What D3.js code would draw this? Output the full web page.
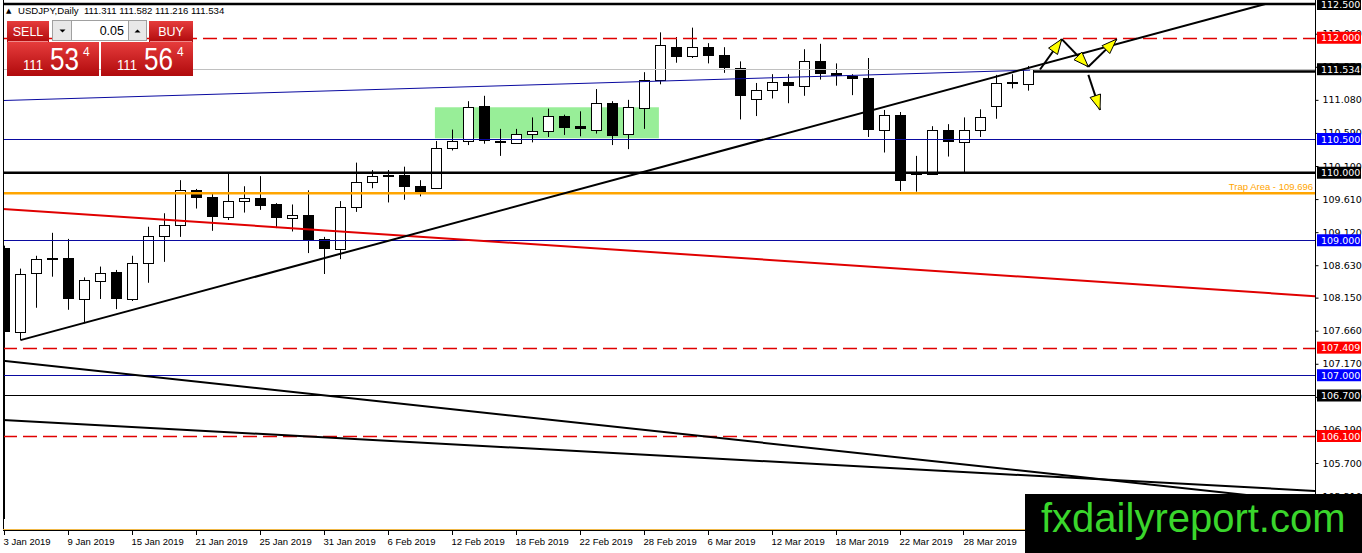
<!DOCTYPE html>
<html lang="en">
<head>
<meta charset="UTF-8" />
<title>USDJPY, Daily</title>
<script src="https://d3js.org/d3.v7.min.js"></script>
<style>
  body { margin: 0; background: #fff; }
  svg { display: block; }
  .price-label { font-family: "DejaVu Sans", sans-serif; font-size: 9.5px; }
  .date-label { font-family: "Liberation Sans", Arial, sans-serif; font-size: 9.5px; }
  .panel-text { font-family: "Liberation Sans", Arial, sans-serif; fill: #fff; }
</style>
</head>
<body>
<div id="chart"></div>
<script>
// daily bars, 3 Jan - 3 Apr 2019
const barDates = [
  "3 Jan", "4 Jan", "7 Jan", "8 Jan", "9 Jan", "10 Jan", "11 Jan", "14 Jan", "15 Jan", "16 Jan",
  "17 Jan", "18 Jan", "21 Jan", "22 Jan", "23 Jan", "24 Jan", "25 Jan", "28 Jan", "29 Jan", "30 Jan",
  "31 Jan", "1 Feb", "4 Feb", "5 Feb", "6 Feb", "7 Feb", "8 Feb", "11 Feb", "12 Feb", "13 Feb",
  "14 Feb", "15 Feb", "18 Feb", "19 Feb", "20 Feb", "21 Feb", "22 Feb", "25 Feb", "26 Feb", "27 Feb",
  "28 Feb", "1 Mar", "4 Mar", "5 Mar", "6 Mar", "7 Mar", "8 Mar", "11 Mar", "12 Mar", "13 Mar",
  "14 Mar", "15 Mar", "18 Mar", "19 Mar", "20 Mar", "21 Mar", "22 Mar", "25 Mar", "26 Mar", "27 Mar",
  "28 Mar", "29 Mar", "1 Apr", "2 Apr", "3 Apr"
];
const openP = [
  108.88, 107.64, 108.51, 108.74, 108.74, 108.13, 108.40, 108.53, 108.13, 108.67,
  109.07, 109.22, 109.75, 109.64, 109.35, 109.58, 109.62, 109.54, 109.33, 109.37,
  109.02, 108.87, 109.49, 109.86, 109.96, 109.97, 109.80, 109.77, 110.36, 110.47,
  110.99, 110.47, 110.44, 110.58, 110.62, 110.84, 110.69, 110.64, 111.04, 110.57,
  110.96, 111.37, 111.87, 111.73, 111.86, 111.74, 111.55, 111.10, 111.23, 111.34,
  111.28, 111.65, 111.48, 111.43, 111.40, 110.63, 110.85, 110.00, 109.98, 110.63,
  110.45, 110.63, 110.99, 111.34, 111.311
];
const highP = [
  108.92, 108.58, 108.77, 109.11, 109.02, 108.45, 108.61, 108.56, 108.77, 109.20,
  109.40, 109.89, 109.76, 109.70, 109.99, 109.80, 109.95, 109.55, 109.53, 109.74,
  109.05, 109.58, 110.15, 110.04, 110.04, 110.09, 109.89, 110.47, 110.64, 111.06,
  111.14, 110.65, 110.65, 110.82, 110.95, 110.86, 110.91, 111.24, 111.06, 111.08,
  111.49, 112.08, 112.01, 112.15, 111.92, 111.86, 111.65, 111.33, 111.46, 111.46,
  111.83, 111.91, 111.62, 111.46, 111.70, 110.93, 110.90, 110.25, 110.69, 110.72,
  110.82, 110.94, 111.45, 111.46, 111.582
];
const lowP = [
  104.87, 107.52, 108.00, 108.46, 107.97, 107.77, 108.13, 107.98, 108.10, 108.37,
  108.68, 109.05, 109.47, 109.14, 109.30, 109.41, 109.45, 109.18, 109.13, 108.81,
  108.50, 108.72, 109.42, 109.77, 109.56, 109.60, 109.65, 109.76, 110.33, 110.41,
  110.43, 110.25, 110.43, 110.45, 110.53, 110.56, 110.54, 110.58, 110.41, 110.35,
  110.65, 111.31, 111.63, 111.70, 111.62, 111.48, 110.79, 110.84, 111.10, 111.03,
  111.14, 111.38, 111.29, 111.15, 110.53, 110.30, 109.73, 109.72, 109.97, 110.24,
  110.00, 110.53, 110.80, 111.25, 111.216
];
const closeP = [
  107.64, 108.50, 108.72, 108.72, 108.13, 108.41, 108.51, 108.13, 108.67, 109.07,
  109.22, 109.75, 109.63, 109.35, 109.58, 109.62, 109.51, 109.33, 109.38, 109.00,
  108.87, 109.49, 109.86, 109.95, 109.95, 109.79, 109.71, 110.36, 110.47, 110.98,
  110.47, 110.44, 110.58, 110.62, 110.84, 110.67, 110.65, 111.03, 110.55, 110.97,
  111.37, 111.89, 111.72, 111.86, 111.73, 111.55, 111.14, 111.23, 111.34, 111.29,
  111.65, 111.47, 111.44, 111.39, 110.64, 110.85, 109.88, 109.99, 110.63, 110.45,
  110.64, 110.82, 111.33, 111.33, 111.534
];

const dateTickBars = [0, 4, 8, 12, 16, 20, 24, 28, 32, 36, 40, 44, 48, 52, 56, 60, 64];
const priceTicks = [112.06, 111.57, 111.08, 110.59, 110.10, 109.61, 109.12, 108.63, 108.15,
                    107.66, 107.17, 106.68, 106.19, 105.70, 105.21];

// horizontal levels drawn on the chart
const levelPrices = [112.5, 112.0, 111.534, 110.5, 110.0, 109.696, 109.0, 107.409, 107.0, 106.7, 106.1];
const levelKinds  = ["black", "red", "bid", "blue", "black", "trap", "blue", "red", "blue", "blackThin", "red"];
const trapText = "Trap Area - 109.696";

// trend lines as [bar index, price] pairs
const risingLine   = [[1, 107.52], [78.8, 112.5]];
const blueSlope    = [[-0.1, 111.07], [64.1, 111.52]];
const redSlope     = [[-0.1, 109.463], [82, 108.17]];
const lowerLineA   = [[-0.1, 107.215], [82, 105.115]];
const lowerLineB   = [[-0.1, 106.337], [82, 105.285]];
const breakLine    = [[64.3, 111.50], [82, 111.50]];
const rangeBox     = [[26.9, 110.97], [40.9, 110.51]];
const arrowLines = [
  [[64.72, 111.53], [66.08, 111.98]],
  [[66.08, 111.98], [67.74, 111.57]],
  [[67.74, 111.57], [69.51, 111.98]],
  [[67.74, 111.45], [68.47, 110.93]]
];

// one-click panel quotes
const bidQuote = ["111", "53", "4"];
const askQuote = ["111", "56", "4"];
const lotSize = "0.05";

const width = 1362, height = 553;
const plotLeft = 3, plotRight = 1315, plotBottom = 531;

const svg = d3.select("#chart").append("svg")
  .attr("width", width).attr("height", height);

const defs = svg.append("defs");
defs.append("clipPath").attr("id", "plot-clip")
  .append("rect").attr("x", plotLeft).attr("y", 0)
  .attr("width", plotRight - plotLeft).attr("height", plotBottom);
const grad = defs.append("linearGradient").attr("id", "redGrad")
  .attr("x1", 0).attr("x2", 0).attr("y1", 0).attr("y2", 1);
grad.append("stop").attr("offset", "0%").attr("stop-color", "#e63c3c");
grad.append("stop").attr("offset", "100%").attr("stop-color", "#b00a0c");

svg.append("rect").attr("width", width).attr("height", height).attr("fill", "#fff");

const x = d3.scaleLinear().domain([-0.0625, 81.9375]).range([3.5, 1315.5]);
const y = d3.scaleLinear().domain([112.5 + 4 / 67.5, 112.5 - 527 / 67.5]).range([0, plotBottom]);
const crisp = v => Math.round(v) + 0.5;

const plot = svg.append("g").attr("clip-path", "url(#plot-clip)");

// consolidation box
plot.append("rect")
  .attr("x", x(rangeBox[0][0])).attr("y", y(rangeBox[0][1]))
  .attr("width", x(rangeBox[1][0]) - x(rangeBox[0][0]))
  .attr("height", y(rangeBox[1][1]) - y(rangeBox[0][1]))
  .attr("fill", "#98ee98");

// candles
const bars = barDates.map((d, i) => ({ i, d, o: openP[i], h: highP[i], l: lowP[i], c: closeP[i] }));
const cx = d => Math.floor(x(d.i));

plot.selectAll(".wick").data(bars).join("line")
  .attr("class", "wick")
  .attr("x1", d => cx(d) + 0.5).attr("x2", d => cx(d) + 0.5)
  .attr("y1", d => y(d.h)).attr("y2", d => y(d.l))
  .attr("stroke", "#000").attr("stroke-width", 1);

plot.selectAll(".body").data(bars).join("rect")
  .attr("class", "body")
  .attr("x", d => d.c >= d.o ? cx(d) - 4.5 : cx(d) - 5)
  .attr("y", d => d.c >= d.o ? Math.round(y(d.c)) + 0.5 : Math.round(y(d.o)))
  .attr("width", d => d.c >= d.o ? 10 : 11)
  .attr("height", d => {
    const hgt = Math.round(y(Math.min(d.o, d.c))) - Math.round(y(Math.max(d.o, d.c)));
    return d.c >= d.o ? Math.max(hgt, 1) : Math.max(hgt, 2);
  })
  .attr("fill", d => d.c >= d.o ? "#fff" : "#000")
  .attr("stroke", d => d.c >= d.o ? "#000" : "none");

// horizontal levels
const levelStyle = {
  black:     { stroke: "#000", w: 2.5 },
  red:       { stroke: "#e00000", w: 1.5, dash: "14,6" },
  bid:       { stroke: "#c0c0c0", w: 1 },
  blue:      { stroke: "#0a0aa0", w: 1 },
  trap:      { stroke: "#ffa500", w: 2.5 },
  blackThin: { stroke: "#000", w: 1.2 }
};
levelPrices.forEach((p, k) => {
  const st = levelStyle[levelKinds[k]];
  const yy = st.w < 2 ? crisp(y(p)) : y(p);
  plot.append("line")
    .attr("x1", plotLeft).attr("x2", plotRight)
    .attr("y1", yy).attr("y2", yy)
    .attr("stroke", st.stroke).attr("stroke-width", st.w)
    .attr("stroke-dasharray", st.dash || null);
});

// trend lines
const lineGen = d3.line().x(d => x(d[0])).y(d => y(d[1]));
[
  [blueSlope, "#0a0aa0", 1],
  [redSlope, "#e00000", 2],
  [lowerLineA, "#000", 2],
  [lowerLineB, "#000", 2],
  [risingLine, "#000", 2],
  [breakLine, "#000", 2.5]
].forEach(([pts, col, w]) => {
  plot.append("path").attr("d", lineGen(pts))
    .attr("fill", "none").attr("stroke", col).attr("stroke-width", w);
});

// scenario arrows
arrowLines.forEach(pts => {
  const x1 = x(pts[0][0]), y1 = y(pts[0][1]), x2 = x(pts[1][0]), y2 = y(pts[1][1]);
  plot.append("line").attr("x1", x1).attr("y1", y1).attr("x2", x2).attr("y2", y2)
    .attr("stroke", "#000").attr("stroke-width", 2);
  const ang = Math.atan2(y2 - y1, x2 - x1);
  const len = 15, half = 5.5;
  const bx = x2 - len * Math.cos(ang), by = y2 - len * Math.sin(ang);
  const px = -Math.sin(ang) * half, py = Math.cos(ang) * half;
  plot.append("path")
    .attr("d", `M${x2},${y2}L${bx + px},${by + py}L${bx - px},${by - py}Z`)
    .attr("fill", "#ffff00").attr("stroke", "#000").attr("stroke-width", 1);
});

// trap area caption
const trapIdx = levelKinds.indexOf("trap");
svg.append("text").attr("class", "date-label")
  .attr("x", plotRight - 2).attr("y", y(levelPrices[trapIdx]) - 3)
  .attr("text-anchor", "end").attr("fill", "#ffa500")
  .text(trapText);

// frame
svg.append("line").attr("x1", 3.5).attr("x2", 3.5).attr("y1", 0).attr("y2", plotBottom)
  .attr("stroke", "#000");
svg.append("line").attr("x1", crisp(plotRight)).attr("x2", crisp(plotRight)).attr("y1", 0).attr("y2", plotBottom + 1)
  .attr("stroke", "#000");
svg.append("line").attr("x1", plotLeft).attr("x2", plotRight).attr("y1", 529.5).attr("y2", 529.5)
  .attr("stroke", "#f0b848");
svg.append("line").attr("x1", plotLeft).attr("x2", plotRight + 1).attr("y1", 530.5).attr("y2", 530.5)
  .attr("stroke", "#000");

// price axis
const yAxis = d3.axisRight(y).tickValues(priceTicks).tickSize(3).tickPadding(4)
  .tickFormat(d3.format(".3f"));
const yAxisG = svg.append("g").attr("transform", `translate(${crisp(plotRight)},0)`).call(yAxis);
yAxisG.select(".domain").remove();
yAxisG.selectAll("text").attr("class", "price-label").attr("font-family", null).attr("font-size", null)
  .attr("fill", "#000");

// level labels on the price axis (they cover the nearby tick labels, as in the terminal)
const boxFill = { black: "#000", red: "#ff0000", bid: "#000", blue: "#0000ff", blackThin: "#000" };
levelPrices.forEach((p, k) => {
  const f = boxFill[levelKinds[k]];
  if (!f) return;
  const yy = y(p);
  svg.append("rect").attr("x", plotRight + 2).attr("y", yy - 6)
    .attr("width", 44).attr("height", 12).attr("fill", f);
  svg.append("text").attr("class", "price-label")
    .attr("x", plotRight + 6).attr("y", yy + 3.5)
    .attr("fill", "#fff").text(p.toFixed(3));
});

// date axis
const xAxisG = svg.append("g").attr("transform", `translate(0,${plotBottom})`);
xAxisG.selectAll("line").data(dateTickBars).join("line")
  .attr("x1", d => crisp(x(d)) - 1).attr("x2", d => crisp(x(d)) - 1)
  .attr("y1", 0).attr("y2", 4).attr("stroke", "#000");
xAxisG.selectAll("text").data(dateTickBars).join("text")
  .attr("class", "date-label")
  .attr("x", d => x(d) - 1).attr("y", 14)
  .text(d => barDates[d] + " 2019");

// chart title
svg.append("text").attr("x", 6).attr("y", 13)
  .style("font-family", "DejaVu Sans, sans-serif").style("font-size", "7px").text("\u25B2");
svg.append("text").attr("x", 18).attr("y", 14)
  .style("font-family", "Liberation Sans, Arial, sans-serif").style("font-size", "9.6px")
  .style("white-space", "pre")
  .text("USDJPY,Daily  " + [openP[64], highP[64], lowP[64], closeP[64]].map(v => v.toFixed(3)).join(" "));

// one click trading panel
const panel = svg.append("g");
panel.append("rect").attr("x", 7).attr("y", 21).attr("width", 42).attr("height", 21).attr("fill", "url(#redGrad)");
panel.append("rect").attr("x", 149).attr("y", 21).attr("width", 44).attr("height", 21).attr("fill", "url(#redGrad)");
panel.append("line").attr("x1", 8).attr("x2", 48).attr("y1", 41.5).attr("y2", 41.5).attr("stroke", "#ef8a8a");
panel.append("line").attr("x1", 150).attr("x2", 192).attr("y1", 41.5).attr("y2", 41.5).attr("stroke", "#ef8a8a");
panel.append("text").attr("class", "panel-text").attr("x", 28).attr("y", 36)
  .attr("text-anchor", "middle").style("font-size", "12.5px").text("SELL");
panel.append("text").attr("class", "panel-text").attr("x", 171).attr("y", 36)
  .attr("text-anchor", "middle").style("font-size", "12.5px").text("BUY");

panel.append("rect").attr("x", 52.5).attr("y", 20.5).attr("width", 19).attr("height", 20)
  .attr("fill", "#e8e8e8").attr("stroke", "#a0a0a0");
panel.append("rect").attr("x", 71.5).attr("y", 20.5).attr("width", 57).attr("height", 20)
  .attr("fill", "#fff").attr("stroke", "#a0a0a0");
panel.append("rect").attr("x", 128.5).attr("y", 20.5).attr("width", 18).attr("height", 20)
  .attr("fill", "#e8e8e8").attr("stroke", "#a0a0a0");
panel.append("path").attr("d", "M59.5,29.5h6l-3,3z").attr("fill", "#000");
panel.append("path").attr("d", "M134.5,32.5h6l-3,-3z").attr("fill", "#000");
panel.append("text").attr("x", 124).attr("y", 35).attr("text-anchor", "end")
  .style("font-family", "Liberation Sans, Arial, sans-serif").style("font-size", "12.5px").text(lotSize);

[[7, bidQuote], [101, askQuote]].forEach(([bx, q]) => {
  panel.append("rect").attr("x", bx).attr("y", 42).attr("width", 92).attr("height", 34)
    .attr("fill", "url(#redGrad)");
  panel.append("text").attr("class", "panel-text").attr("x", bx + 16).attr("y", 70)
    .attr("textLength", 20).attr("lengthAdjust", "spacingAndGlyphs")
    .style("font-size", "14px").text(q[0]);
  panel.append("text").attr("class", "panel-text").attr("x", bx + 43).attr("y", 70)
    .attr("textLength", 29).attr("lengthAdjust", "spacingAndGlyphs")
    .style("font-size", "31px").text(q[1]);
  panel.append("text").attr("class", "panel-text").attr("x", bx + 76).attr("y", 56)
    .style("font-size", "12px").text(q[2]);
});

// watermark
svg.append("rect").attr("x", 1025).attr("y", 494).attr("width", 337).attr("height", 59).attr("fill", "#000");
svg.append("text").attr("x", 1041).attr("y", 532)
  .style("font-family", "Liberation Sans, Arial, sans-serif").style("font-size", "40px")
  .attr("fill", "#3ad62c").text("fxdailyreport.com");
</script>
</body>
</html>
